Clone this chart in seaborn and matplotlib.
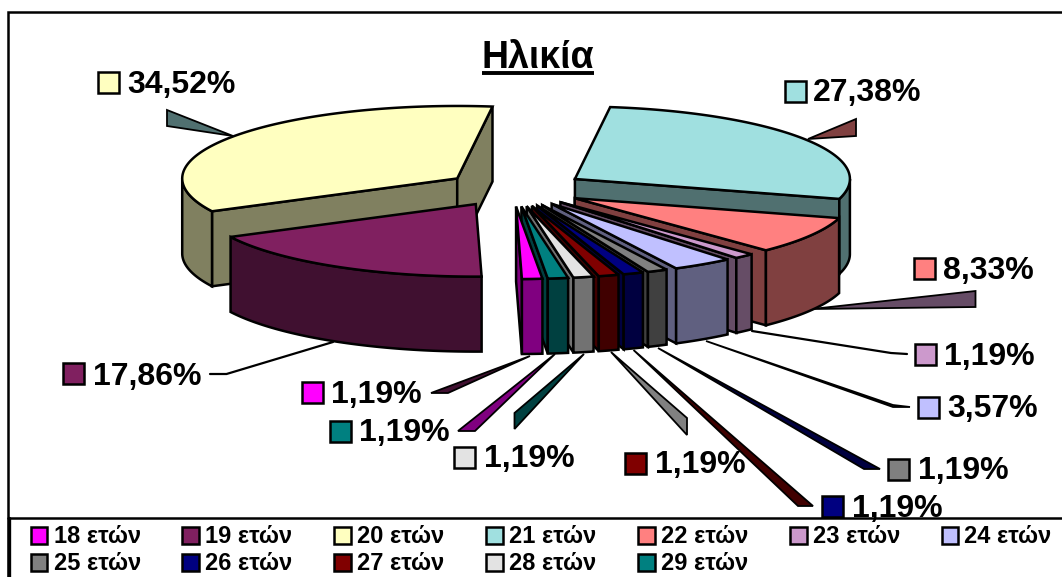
import numpy as np
import matplotlib
matplotlib.use("Agg")
import matplotlib.pyplot as plt
from matplotlib.patches import Polygon, Rectangle
import seaborn as sns

# ---- data ----
categories = ["18 ετών", "19 ετών", "20 ετών", "21 ετών", "22 ετών", "23 ετών",
              "24 ετών", "25 ετών", "26 ετών", "27 ετών", "28 ετών", "29 ετών"]
shares = [1.19, 17.86, 34.52, 27.38, 8.33, 1.19, 3.57, 1.19, 1.19, 1.19, 1.19, 1.19]
slice_colors = ["#FF00FF", "#802060", "#FFFFC0", "#A0E0E0", "#FF8080", "#CC99CC",
                "#C0C0FF", "#808080", "#000080", "#800000", "#E3E3E3", "#008080"]
title = "Ηλικία"

# ---- layout (pixels of the canvas) ----
W, H = 1062, 577
CX, CY, RX, RY, DEPTH, EXPLODE, START = 515.4, 189.3, 275, 72.5, 75, 0.259, 84.5
# swatch left, swatch top, text left, text centre y
label_pos = [(301.5, 382, 331, 392), (63, 363, 93, 373.5), (98, 72, 127, 82),
             (785, 81, 813, 90), (914, 258, 943, 267), (914.5, 344, 944, 353.5),
             (917.5, 397, 947, 406), (888, 459, 917.5, 468), (821.5, 496, 852, 506),
             (625, 453, 655, 462), (454, 447, 484, 456), (329.5, 421, 359, 430)]
leaders = [
    ([(530, 356), (448, 393), (431, 393)], "#401030"),
    ([(333, 342), (226.5, 374), (210, 374)], None),
    ([(233, 136), (167, 110), (167, 126)], "#507070"),
    ([(808, 139), (856, 119), (856, 136)], "#804040"),
    ([(812, 309), (975.5, 291), (975.5, 307)], "#664C66"),
    ([(752, 331), (891, 353), (907, 354)], None),
    ([(706, 341), (893, 405), (910, 407), (893, 407)], "#606060"),
    ([(658, 348), (880, 469), (864, 469)], "#000040"),
    ([(633.5, 350), (813, 506), (798, 506)], "#400000"),
    ([(611, 352), (687, 418), (687, 435)], "#808080"),
    ([(584, 354), (514.5, 413), (514.5, 429)], "#004040"),
    ([(555, 354), (475, 431), (458, 431)], "#800080"),
]
legend_cols = [30.5, 182, 334, 486, 638, 790, 941.5]
legend_rows = [535, 562]

sns.set_theme(style="white")
plt.rcParams["font.family"] = ["Liberation Sans", "DejaVu Sans"]
palette = sns.color_palette(slice_colors)

fig = plt.figure(figsize=(W / 100, H / 100), dpi=100, facecolor="white")
ax = fig.add_axes([0, 0, 1, 1])
ax.set_xlim(0, W)
ax.set_ylim(H, 0)
ax.axis("off")

def poly(points, color, lw=1.8, z=2):
    ax.add_patch(Polygon(points, closed=True, facecolor=color, edgecolor="black",
                         linewidth=lw, joinstyle="miter", zorder=z))

# leaders sit behind the pie
for pts, col in leaders:
    if col is None:
        ax.plot(*zip(*pts), color="black", lw=1.6, zorder=1)
    else:
        poly(pts, col, lw=1.3, z=1)

# ---- exploded 3D pie, angles derived from the shares ----
total = sum(shares)
angles = np.cumsum([0] + [s / total * 360 for s in shares]) + START
slices = []
for i in range(len(shares)):
    a, b = angles[i], angles[i + 1]
    m = np.radians((a + b) / 2)
    front = max(0.0, np.sin(m))
    slices.append((np.sin(m), i, a, b,
                   CX + EXPLODE * RX * np.cos(m) - 3.5 * front,
                   CY + EXPLODE * RY * np.sin(m) - 1.5 * front))

def rim(ox, oy, t):
    r = np.radians(t)
    return ox + RX * np.cos(r), oy + RY * np.sin(r)

for _, i, a, b, ox, oy in sorted(slices, key=lambda s: s[0]):
    col = np.array(palette[i])
    side = col * 0.5
    # cut faces
    for t, sign in ((a, -1), (b, 1)):
        if sign * np.cos(np.radians(t)) > 0:
            x, y = rim(ox, oy, t)
            poly([(ox, oy), (x, y), (x, y + DEPTH), (ox, oy + DEPTH)], side)
    # outer wall: the part of the rim that faces the viewer
    for k in (0, 1):
        lo, hi = max(a, 360 * k), min(b, 180 + 360 * k)
        if hi > lo:
            ts = np.linspace(lo, hi, 80)
            top = [rim(ox, oy, t) for t in ts]
            bottom = [(x, y + DEPTH) for x, y in reversed(top)]
            poly(top + bottom, side)
    # top face
    ts = np.linspace(a, b, 160)
    poly([(ox, oy)] + [rim(ox, oy, t) for t in ts], col)

# ---- frame ----
ax.plot([8, 8, W + 5], [H + 5, 11.5, 11.5], color="black", lw=1.8, zorder=6, solid_joinstyle="miter")
ax.plot([8, W + 5], [518, 518], color="black", lw=1.8, zorder=6)
ax.plot([9, 9], [518, H + 5], color="black", lw=2.4, zorder=6)

# ---- title ----
ax.text(482, 68, title, fontsize=27, fontweight="bold", color="black", ha="left", va="baseline", zorder=8)
ax.plot([482, 594], [73, 73], color="black", lw=2.8, zorder=8, solid_capstyle="butt")

# ---- data labels ----
for i, (sx, sy, tx, ty) in enumerate(label_pos):
    ax.add_patch(Rectangle((sx, sy), 21, 21, facecolor=palette[i], edgecolor="black", linewidth=1.8, zorder=7))
    ax.text(tx, ty, f"{shares[i]:.2f}%".replace(".", ","), fontsize=23, fontweight="bold",
            color="black", ha="left", va="center_baseline", zorder=8)

# ---- legend ----
for i, name in enumerate(categories):
    row, col = divmod(i, 7)
    x, y = legend_cols[col], legend_rows[row]
    ax.add_patch(Rectangle((x, y - 8), 16.5, 16.5, facecolor=palette[i], edgecolor="black", linewidth=1.8, zorder=7))
    ax.text(x + 23, y - 1, name, fontsize=17, fontweight="bold", color="black",
            ha="left", va="center_baseline", zorder=8)

fig.savefig("out.png", dpi=100, facecolor="white")
